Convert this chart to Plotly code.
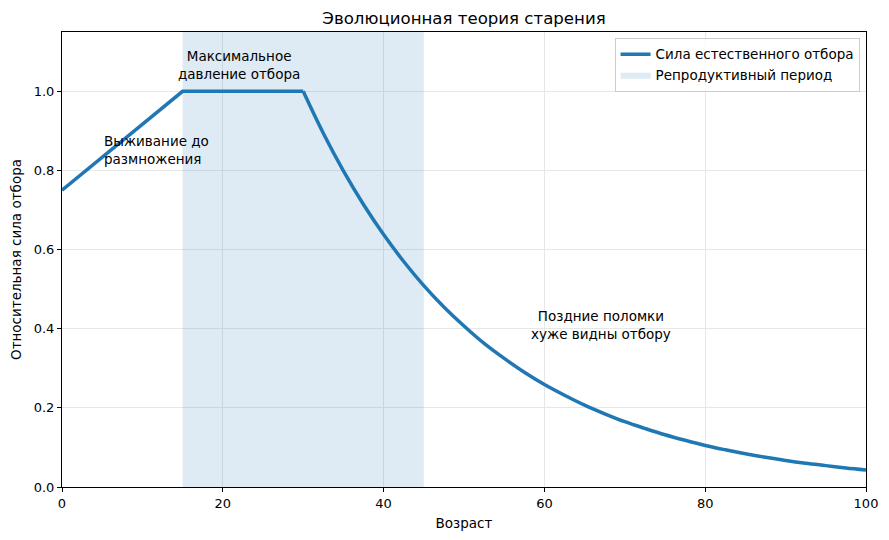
import plotly.graph_objects as go

# Data
age = [0, 15, 30, 32.5, 35, 37.5, 40, 42.5, 45, 47.5, 50, 52.5, 55, 57.5, 60,
       62.5, 65, 67.5, 70, 72.5, 75, 77.5, 80, 82.5, 85, 87.5, 90, 92.5, 95, 97.5, 100]
selection = [0.75, 1.0, 1.0, 0.894, 0.799, 0.714, 0.638, 0.570, 0.509, 0.455, 0.407,
             0.363, 0.325, 0.290, 0.259, 0.232, 0.207, 0.185, 0.165, 0.148, 0.132,
             0.118, 0.105, 0.094, 0.084, 0.075, 0.067, 0.060, 0.054, 0.048, 0.043]
decline_start = 30  # age where the plateau ends and the decline begins
repro_start, repro_end = 15, 45
x_range = [0, 100]
y_range = [0, 1.15]
x_ticks = [0, 20, 40, 60, 80, 100]
y_ticks = [0.0, 0.2, 0.4, 0.6, 0.8, 1.0]

title = "Эволюционная теория старения"
x_label = "Возраст"
y_label = "Относительная сила отбора"
line_name = "Сила естественного отбора"
span_name = "Репродуктивный период"
notes = [
    (5, 0.853, "Выживание до<br>размножения", "left"),
    (22, 1.066, "Максимальное<br>давление отбора", "center"),
    (67, 0.41, "Поздние поломки<br>хуже видны отбору", "center"),
]

FONT = "DejaVu Sans"
BLUE = "#1f77b4"

k = age.index(decline_start)
rise_x, rise_y = age[:k + 1], selection[:k + 1]
fall_x, fall_y = age[k:], selection[k:]

fig = go.Figure()
fig.add_trace(go.Scatter(
    x=[repro_start, repro_end, repro_end, repro_start, repro_start],
    y=[y_range[0], y_range[0], y_range[1], y_range[1], y_range[0]],
    fill="toself", fillcolor="rgba(31,119,180,0.15)", mode="lines",
    line=dict(width=0, color="rgba(0,0,0,0)"), name=span_name,
    hoverinfo="skip", legendrank=2,
))
fig.add_trace(go.Scatter(
    x=rise_x, y=rise_y, mode="lines", line=dict(color=BLUE, width=3.5),
    name=line_name, legendgroup="sel", legendrank=1,
))
fig.add_trace(go.Scatter(
    x=fall_x, y=fall_y, mode="lines",
    line=dict(color=BLUE, width=3.5, shape="spline", smoothing=1),
    name=line_name, legendgroup="sel", showlegend=False,
))

for x, y, txt, align in notes:
    fig.add_annotation(
        x=x, y=y, text=txt, showarrow=False, align=align,
        xanchor="left" if align == "left" else "center", yanchor="middle",
        font=dict(family=FONT, size=13.5, color="black"),
    )

axis_common = dict(
    showline=True, linecolor="black", linewidth=1, mirror=True,
    ticks="outside", ticklen=4, tickcolor="black", tickwidth=1,
    showgrid=True, gridcolor="#e7e7e7", gridwidth=1, zeroline=False,
    tickfont=dict(family=FONT, size=13, color="black"),
)

fig.update_layout(
    width=889, height=540,
    margin=dict(l=62, r=23, t=32, b=53),
    plot_bgcolor="white", paper_bgcolor="white",
    font=dict(family=FONT, color="black"),
    title=dict(text=title, x=0.5, xref="paper", xanchor="center",
               y=1 - 18 / 540, yref="container", yanchor="middle",
               font=dict(family=FONT, size=16.6, color="black")),
    xaxis=dict(range=x_range, tickvals=x_ticks, **axis_common,
               title=dict(text=x_label, font=dict(family=FONT, size=13.5), standoff=8)),
    yaxis=dict(range=y_range, tickvals=y_ticks, tickformat=".1f", **axis_common,
               title=dict(text=y_label, font=dict(family=FONT, size=13.5), standoff=8)),
    legend=dict(x=0.992, y=0.987, xanchor="right", yanchor="top",
                bgcolor="rgba(255,255,255,0.8)", bordercolor="#cccccc", borderwidth=1,
                font=dict(family=FONT, size=13.5, color="black"),
                tracegroupgap=0, itemwidth=30),
    showlegend=True,
)

fig.write_html("out.html")
